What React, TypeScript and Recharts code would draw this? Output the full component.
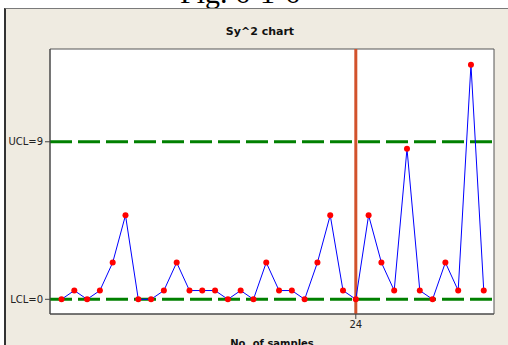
import { LineChart, Line, XAxis, YAxis, ReferenceLine, ReferenceArea } from 'recharts';

const samples = [
  1, 2, 3, 4, 5, 6, 7, 8, 9, 10, 11, 12, 13, 14, 15, 16, 17,
  18, 19, 20, 21, 22, 23, 24, 25, 26, 27, 28, 29, 30, 31, 32, 33, 34,
];
const sy2 = [
  0, 0.5, 0, 0.5, 2.1, 4.8, 0, 0, 0.5, 2.1, 0.5, 0.5, 0.5, 0, 0.5, 0, 2.1,
  0.5, 0.5, 0, 2.1, 4.8, 0.5, 0, 4.8, 2.1, 0.5, 8.6, 0.5, 0, 2.1, 0.5, 13.4, 0.5,
];
const ucl = 9;
const lcl = 0;
const markedSample = 24;
const yTicks = [lcl, ucl];
const yTickLabels: Record<number, string> = { 0: 'LCL=0', 9: 'UCL=9' };

const data = samples.map((s, i) => ({ sample: s, value: sy2[i] }));

const X_DOMAIN: [number, number] = [0.1, 34.8];
const Y_DOMAIN: [number, number] = [-0.84, 14.3];
const uiFont = 'Tahoma, Verdana, "DejaVu Sans", sans-serif';

export default function App() {
  return (
    <div
      style={{
        position: 'absolute',
        left: 0,
        top: 0,
        width: 508,
        height: 345,
        overflow: 'hidden',
        background: '#fff',
      }}
    >
      <svg width={508} height={20} style={{ position: 'absolute', left: 0, top: 0 }}>
        <text
          x={240}
          y={3}
          textAnchor="middle"
          fontFamily='"Liberation Serif", "Times New Roman", serif'
          fontSize={30}
          fill="#000"
        >
          Fig. 6-1-6
        </text>
      </svg>
      <div
        style={{
          position: 'absolute',
          left: 4,
          top: 8,
          width: 504,
          height: 337,
          background: '#EFEBE1',
          borderTop: '1px solid #7a7a7a',
          borderLeft: '2px solid #333',
          boxSizing: 'border-box',
        }}
      />
      <div
        style={{
          position: 'absolute',
          left: 0,
          width: 520,
          top: 25,
          textAlign: 'center',
          fontFamily: uiFont,
          fontSize: 11,
          fontWeight: 'bold',
          color: '#111',
        }}
      >
        Sy^2 chart
      </div>
      <div style={{ position: 'absolute', left: 5, top: 8 }}>
        <LineChart
          width={503}
          height={337}
          data={data}
          margin={{ top: 41, right: 14, bottom: 0, left: 0 }}
        >
          <XAxis
            dataKey="sample"
            type="number"
            domain={X_DOMAIN}
            ticks={[markedSample]}
            allowDataOverflow
            height={31}
            stroke="#444"
            tickSize={5}
            tick={{ fontSize: 10, fill: '#222', fontFamily: uiFont }}
            label={{
              value: 'No. of samples',
              position: 'insideBottom',
              offset: -2,
              style: { fontSize: 10, fontWeight: 'bold', fill: '#111', fontFamily: uiFont },
            }}
          />
          <YAxis
            type="number"
            domain={Y_DOMAIN}
            ticks={yTicks}
            allowDataOverflow
            width={45}
            stroke="#444"
            tickSize={5}
            tickFormatter={(v: number) => yTickLabels[v] ?? String(v)}
            tick={{ fontSize: 10, fill: '#222', fontFamily: uiFont }}
          />
          <ReferenceArea
            x1={X_DOMAIN[0]}
            x2={X_DOMAIN[1]}
            y1={Y_DOMAIN[0]}
            y2={Y_DOMAIN[1]}
            fill="#fff"
            fillOpacity={1}
            stroke="#555"
            strokeWidth={1}
          />
          <ReferenceLine y={ucl} stroke="#008000" strokeWidth={3} strokeDasharray="22 6" />
          <ReferenceLine y={lcl} stroke="#008000" strokeWidth={3} strokeDasharray="22 6" />
          <ReferenceLine x={markedSample} stroke="#D2522C" strokeWidth={3} />
          <Line
            type="linear"
            dataKey="value"
            stroke="#0000FF"
            strokeWidth={1}
            dot={{ r: 3, fill: '#FF0000', stroke: 'none' }}
            isAnimationActive={false}
          />
        </LineChart>
      </div>
    </div>
  );
}
